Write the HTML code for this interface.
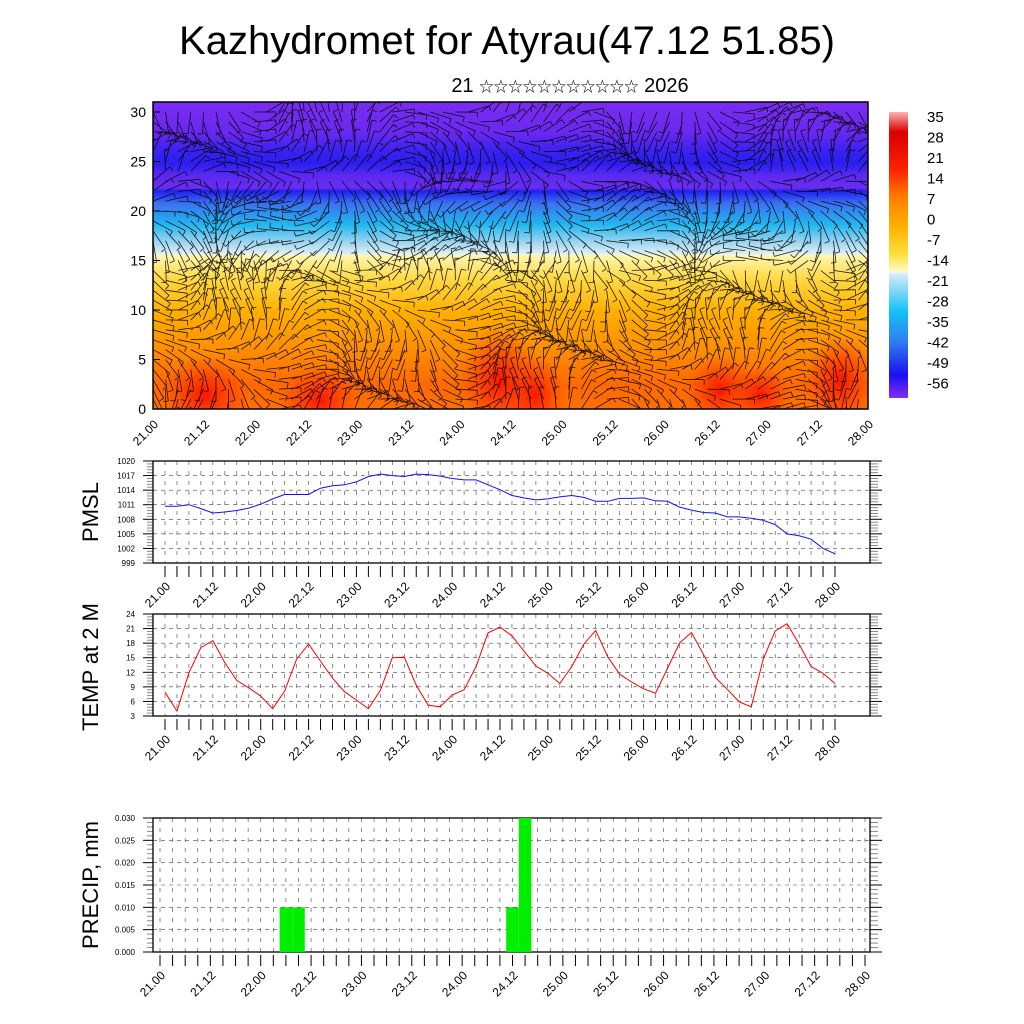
<!DOCTYPE html>
<html><head><meta charset="utf-8"><style>
html,body{margin:0;padding:0;background:#fff;width:1024px;height:1024px;overflow:hidden}
svg{display:block;font-family:"Liberation Sans","Noto Sans CJK SC",sans-serif}
</style></head><body>
<svg id="s" width="1024" height="1024" viewBox="0 0 1024 1024">
<defs>
<linearGradient id="tg" x1="0" y1="0" x2="0" y2="1">
<stop offset="0" stop-color="#7a2cf0"/><stop offset="0.1" stop-color="#6a28f0"/>
<stop offset="0.16" stop-color="#3a22f0"/><stop offset="0.2" stop-color="#2a1ef0"/>
<stop offset="0.24" stop-color="#5a2af0"/><stop offset="0.28" stop-color="#6a2cf0"/>
<stop offset="0.29" stop-color="#2020f0"/><stop offset="0.33" stop-color="#3a70f0"/>
<stop offset="0.4" stop-color="#20b8f0"/><stop offset="0.45" stop-color="#90d0f0"/>
<stop offset="0.495" stop-color="#e0f0f5"/><stop offset="0.5" stop-color="#fff6b0"/>
<stop offset="0.58" stop-color="#ffd840"/><stop offset="0.68" stop-color="#ffb000"/>
<stop offset="0.8" stop-color="#ff9000"/><stop offset="0.92" stop-color="#ff6a00"/>
<stop offset="1" stop-color="#ff7000"/>
</linearGradient>
<radialGradient id="rb"><stop offset="0" stop-color="#ff1000" stop-opacity="0.95"/><stop offset="1" stop-color="#ff3000" stop-opacity="0"/></radialGradient>
<linearGradient id="cb" x1="0" y1="0" x2="0" y2="1">
<stop offset="0" stop-color="#ffb0b0"/><stop offset="0.07" stop-color="#d80000"/>
<stop offset="0.2" stop-color="#ff2000"/><stop offset="0.3" stop-color="#ff8000"/>
<stop offset="0.4" stop-color="#ffb000"/><stop offset="0.5" stop-color="#ffe040"/>
<stop offset="0.56" stop-color="#fffad0"/><stop offset="0.565" stop-color="#d8ecf8"/>
<stop offset="0.7" stop-color="#10c0f8"/><stop offset="0.8" stop-color="#3080f0"/>
<stop offset="0.92" stop-color="#1a10f0"/><stop offset="1" stop-color="#8030f0"/>
</linearGradient>
<clipPath id="cp"><rect x="153" y="102" width="715" height="307"/></clipPath>
</defs>
<text x="507" y="54" font-size="40" text-anchor="middle">Kazhydromet for Atyrau(47.12 51.85)</text>
<text x="570" y="92" font-size="20" text-anchor="middle">21 <tspan font-size="14.5">☆☆☆☆☆☆☆☆☆☆☆</tspan> 2026</text>
<g id="topPanel" clip-path="url(#cp)">
<rect x="153" y="102" width="715" height="307" fill="url(#tg)"/>
</g>
<rect x="153" y="102" width="715" height="307" fill="none" stroke="#000" stroke-width="1.5"/>
<rect x="889" y="112" width="19" height="286" fill="url(#cb)"/>
<g id="g"></g>
</svg>
<script>
// ---- data ----
const pmslValues=[1010.7,1010.7,1011.0,1010.2,1009.3,1009.5,1009.8,1010.3,1011.1,1012.2,1013.1,1013.1,1013.1,1014.4,1014.9,1015.1,1015.7,1016.8,1017.3,1017.0,1016.8,1017.3,1017.2,1016.9,1016.4,1016.1,1016.1,1015.1,1014.1,1012.9,1012.4,1012.0,1012.2,1012.6,1012.9,1012.5,1011.7,1011.7,1012.3,1012.3,1012.4,1011.8,1011.7,1010.5,1009.9,1009.4,1009.3,1008.5,1008.5,1008.2,1007.8,1006.9,1005.0,1004.6,1003.9,1002.0,1000.9];
const tempValues=[7.9,4.0,11.9,17.1,18.5,14.0,10.3,8.8,7.1,4.5,8.1,14.7,17.8,14.3,10.8,8.0,6.3,4.5,8.3,15.0,15.1,9.3,5.2,4.9,7.3,8.4,13.2,20.1,21.3,19.5,16.4,13.3,11.8,9.7,13.2,17.8,20.6,15.2,11.6,10.0,8.6,7.7,12.8,18.0,20.2,15.7,10.9,8.5,5.9,4.9,14.7,20.5,22.0,17.8,13.2,11.8,9.7];
const precipValues=[0,0,0,0,0,0,0,0,0,0,0.01,0.01,0,0,0,0,0,0,0,0,0,0,0,0,0,0,0,0,0.01,0.03,0,0,0,0,0,0,0,0,0,0,0,0,0,0,0,0,0,0,0,0,0,0,0,0,0,0,0];
const xLabels=["21.00","21.12","22.00","22.12","23.00","23.12","24.00","24.12","25.00","25.12","26.00","26.12","27.00","27.12","28.00"];
const pmslTicks=[999,1002,1005,1008,1011,1014,1017,1020];
const tempTicks=[3,6,9,12,15,18,21,24];
const precipTicks=["0.000","0.005","0.010","0.015","0.020","0.025","0.030"];
const cbLabels=["35","28","21","14","7","0","-7","-14","-21","-28","-35","-42","-49","-56"];
const levelTicks=[0,5,10,15,20,25,30];
// ---- drawing ----
const NS="http://www.w3.org/2000/svg";
const G=document.getElementById('g');
function mk(t,a,p){const e=document.createElementNS(NS,t);for(const k in a)e.setAttribute(k,a[k]);(p||G).appendChild(e);return e;}
function txt(x,y,s,sz,anc,rot,p){const e=mk('text',{x:x,y:y,'font-size':sz,'text-anchor':anc||'start'},p);if(rot)e.setAttribute('transform','rotate('+rot+' '+x+' '+y+')');e.textContent=s;return e;}
const topG=document.getElementById('topPanel');
const blobs=[[205,395,45,40],[320,400,40,35],[500,380,40,55],[535,395,30,40],[720,390,35,35],[760,395,30,30],[840,380,35,45]];
blobs.forEach(b=>{const e=mk('ellipse',{cx:b[0],cy:b[1],rx:b[2],ry:b[3],fill:'url(#rb)'},topG);

});
let d='';
for(let i=0;i<57;i++){for(let j=0;j<31;j++){
 const x=153+i*12.6, y=409-j*9.9;
 const a=Math.sin(i*0.35+j*0.22)*1.2+Math.cos(i*0.13-j*0.4)*0.9+(j>14&&j<24?1.3:0);
 const L=22, ex=x+L*Math.cos(a), ey=y+L*Math.sin(a);
 d+='M'+x.toFixed(1)+' '+y.toFixed(1)+'L'+ex.toFixed(1)+' '+ey.toFixed(1);
 const bx=ex-5*Math.sin(a), by=ey+5*Math.cos(a);
 d+='M'+ex.toFixed(1)+' '+ey.toFixed(1)+'L'+bx.toFixed(1)+' '+by.toFixed(1);
}}
const wb=mk('path',{d:d,stroke:'#000','stroke-width':0.8,'stroke-opacity':0.85,fill:'none'},topG);


levelTicks.forEach(v=>{const y=409-v*9.9;mk('line',{x1:153,x2:160,y1:y,y2:y,stroke:'#000'});txt(146,y+5,String(v),14,'end');});
xLabels.forEach((s,k)=>{const x=153+k*715/14;txt(x+6,425,s,12,'end',-45);});
cbLabels.forEach((s,k)=>{txt(927,122+k*20.5,s,15,'start');});
function panel(name,y0,y1,x0,x1,lo,hi,ticks,tickLbl,title,titleY,xl0,xl1){
 const g=mk('g',{});
 
 
 const sy=v=>y1-(v-lo)/(hi-lo)*(y1-y0);
 const sx=i=>xl0+i*(xl1-xl0)/56;
 for(let i=0;i<57;i++){const x=sx(i);mk('line',{x1:x,x2:x,y1:y0,y2:y1,stroke:'#444','stroke-width':0.6,'stroke-dasharray':'4 6'},g);
  mk('line',{x1:x,x2:x,y1:y1+3,y2:y1+14,stroke:'#000','stroke-width':1},g);}
 ticks.forEach((v,k)=>{const y=sy(v);mk('line',{x1:x0,x2:x1,y1:y,y2:y,stroke:'#444','stroke-width':0.6,'stroke-dasharray':'4 4'},g);
  mk('line',{x1:x0,x2:x0-10,y1:y,y2:y,stroke:'#000'},g);mk('line',{x1:x1,x2:x1+12,y1:y,y2:y,stroke:'#000'},g);
  txt(x0-18,y+3,tickLbl[k],8,'end',0,g);
  if(k<ticks.length-1){for(let m=1;m<5;m++){const yy=y-(y-sy(ticks[k+1]))*m/5;mk('line',{x1:x0,x2:x0-6,y1:yy,y2:yy,stroke:'#888'},g);mk('line',{x1:x1,x2:x1+8,y1:yy,y2:yy,stroke:'#888'},g);}}});
 mk('rect',{x:x0,y:y0,width:x1-x0,height:y1-y0,fill:'none',stroke:'#000','stroke-width':1.3},g);
 xLabels.forEach((s,k)=>{txt(sx(k*4)+6,y1+24,s,12,'end',-45,g);});
 txt(98,titleY,title,22,'middle',-90,g);
 return {g:g,sx:sx,sy:sy};
}
const P=panel('pmsl-panel',461,563,153,870,999,1020,pmslTicks,pmslTicks.map(String),'PMSL',512,165,835);
const lp=mk('polyline',{points:pmslValues.map((v,i)=>P.sx(i).toFixed(1)+','+P.sy(v).toFixed(1)).join(' '),fill:'none',stroke:'#1010ff','stroke-width':1},P.g);


const T=panel('temp-panel',614,716,153,870,3,24,tempTicks,tempTicks.map(String),'TEMP at 2 M',667,165,835);
const lt=mk('polyline',{points:tempValues.map((v,i)=>T.sx(i).toFixed(1)+','+T.sy(v).toFixed(1)).join(' '),fill:'none',stroke:'#ff0000','stroke-width':1},T.g);


const R=panel('precip-panel',818,952,153,870,0,0.03,[0,0.005,0.01,0.015,0.02,0.025,0.03],precipTicks,'PRECIP, mm',885,160,865);
const bw=(865-160)/56;
precipValues.forEach((v,i)=>{if(v>0){const y=R.sy(v);const b=mk('rect',{x:R.sx(i)-bw/2,y:y,width:bw,height:952-y,fill:'#00ee00'},R.g);

}});
</script>
</body></html>
